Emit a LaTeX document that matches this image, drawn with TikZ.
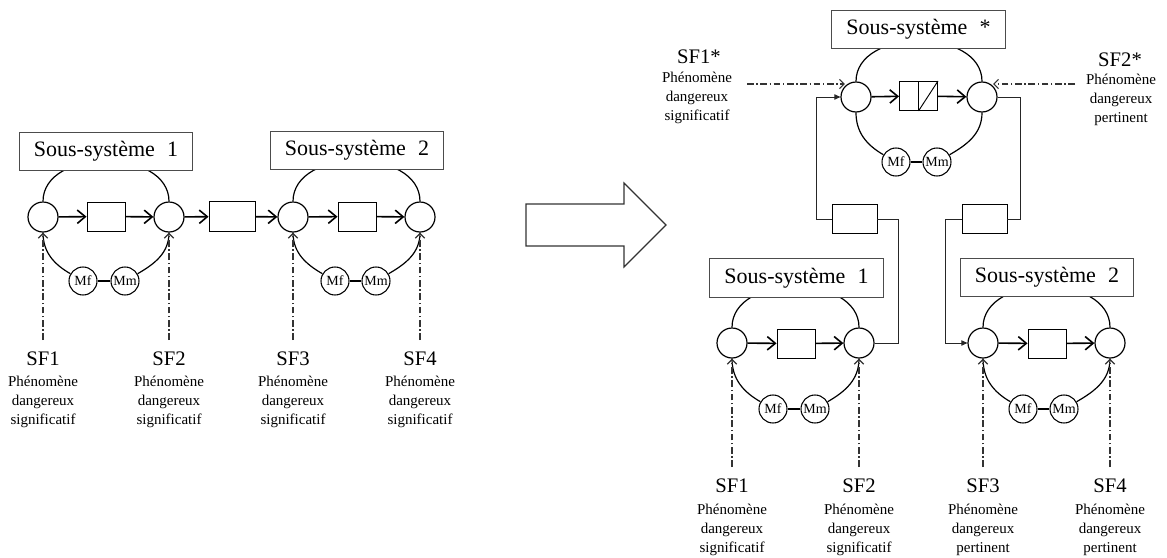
\documentclass[tikz,border=0pt]{standalone}
\usepackage{fontspec}
\setmainfont{Liberation Serif}
\usetikzlibrary{arrows.meta}

\begin{document}
\begin{tikzpicture}[
    x=0.75pt, y=0.75pt,
    port/.style={circle, draw=black, line width=0.9pt, fill=white, inner sep=0pt, minimum size=22.5pt},
    blk/.style={draw=black, line width=0.7pt, fill=white, inner sep=0pt, minimum width=28.5pt, minimum height=21.75pt},
    lnk/.style={blk, minimum width=34.5pt, minimum height=23pt},
    mem/.style={circle, draw=black, line width=0.8pt, fill=white, inner sep=0pt, minimum size=21pt, font=\fontsize{10.5}{10.5}\selectfont},
    sys/.style={draw=black!70, line width=0.7pt, fill=white, inner sep=0pt, minimum width=130pt, minimum height=29pt, font=\fontsize{16.5}{18}\selectfont},
    sf/.style={anchor=north, inner xsep=0pt, inner ysep=9pt, font=\fontsize{15.5}{17}\selectfont},
    desc/.style={align=center, inner sep=0pt, font=\fontsize{11.25}{14.25}\selectfont},
    ring/.style={line width=0.9pt},
    flow/.style={-{Straight Barb[length=6pt,width=10pt]}, line width=1.2pt},
    sense/.style={-{Straight Barb[length=3.5pt,width=7pt]}, line width=0.9pt, black!80, dash pattern=on 5pt off 2pt on 1pt off 2pt},
    wire/.style={line width=0.6pt, black!85}]

    \useasboundingbox (0,0) rectangle (1167,-557);

    % avant
    \node[port] (c1) at (43,-217) {};
    \node[port] (c2) at (169,-217) {};
    \node[port] (c3) at (293,-217) {};
    \node[port] (c4) at (420,-217) {};
    \node[blk] (b1) at (106,-216.5) {};
    \node[blk] (b2) at (357,-216.5) {};
    \node[lnk] (m) at (232,-216.5) {};
    \node[mem] (mf1) at (83,-281) {Mf};
    \node[mem] (mm1) at (125,-281) {Mm};
    \node[mem] (mf2) at (335,-281) {Mf};
    \node[mem] (mm2) at (376,-281) {Mm};

    \draw[ring] (c1) to[out=90,in=90,looseness=1.1] (c2);
    \draw[ring] (c1) to[out=-90,in=150] (mf1);
    \draw[ring] (mf1) -- (mm1);
    \draw[ring] (mm1) to[out=30,in=-90] (c2);
    \draw[ring] (c3) to[out=90,in=90,looseness=1.1] (c4);
    \draw[ring] (c3) to[out=-90,in=150] (mf2);
    \draw[ring] (mf2) -- (mm2);
    \draw[ring] (mm2) to[out=30,in=-90] (c4);

    \node[sys] (sys1) at (106,-151.5) {Sous-système\hspace{0.3em} 1};
    \node[sys] (sys2) at (357,-150.5) {Sous-système\hspace{0.3em} 2};

    \draw[flow] (c1)--(b1);
    \draw[flow] (b1)--(c2);
    \draw[flow] (c2)--(m);
    \draw[flow] (m)--(c3);
    \draw[flow] (c3)--(b2);
    \draw[flow] (b2)--(c4);

    \node[sf] (sf1) at (43,-340) {SF1};
    \node[sf] (sf2) at (169,-340) {SF2};
    \node[sf] (sf3) at (293,-340) {SF3};
    \node[sf] (sf4) at (420,-340) {SF4};
    \node[desc] (d1) at (43,-402) {Phénomène\\dangereux\\significatif};
    \node[desc] (d2) at (169,-402) {Phénomène\\dangereux\\significatif};
    \node[desc] (d3) at (293,-402) {Phénomène\\dangereux\\significatif};
    \node[desc] (d4) at (420,-402) {Phénomène\\dangereux\\significatif};
    \draw[sense] (sf1)--(c1);
    \draw[sense] (sf2)--(c2);
    \draw[sense] (sf3)--(c3);
    \draw[sense] (sf4)--(c4);

    \draw[line width=0.9pt, black!80] (526,-204) -- (624,-204) -- (624,-183) -- (666,-225)
        -- (624,-267) -- (624,-246) -- (526,-246) -- cycle;

    % apres
    \node[port] (tc1) at (856,-97) {};
    \node[port] (tc2) at (982,-97) {};
    \node[blk] (tb) at (918.5,-96) {};
    \draw[line width=0.7pt] (tb.north) -- (tb.south);
    \draw[line width=0.7pt] (tb.south) -- (tb.north east);
    \node[mem] (tmf) at (896,-162) {Mf};
    \node[mem] (tmm) at (937,-162) {Mm};

    \node[port] (lc1) at (732,-343) {};
    \node[port] (lc2) at (859,-343) {};
    \node[blk] (lb) at (796,-343.5) {};
    \node[mem] (lmf) at (773,-409) {Mf};
    \node[mem] (lmm) at (815,-409) {Mm};

    \node[port] (rc1) at (983,-343) {};
    \node[port] (rc2) at (1110,-343) {};
    \node[blk] (rb) at (1047,-343.5) {};
    \node[mem] (rmf) at (1023,-409) {Mf};
    \node[mem] (rmm) at (1064,-409) {Mm};

    \node[blk, minimum width=33.75pt] (linkL) at (854.5,-219) {};
    \node[blk, minimum width=33.75pt] (linkR) at (984.5,-219) {};

    \draw[ring] (tc1) to[out=90,in=90,looseness=1.1] (tc2);
    \draw[ring] (tc1) to[out=-90,in=150] (tmf);
    \draw[ring] (tmf) -- (tmm);
    \draw[ring] (tmm) to[out=30,in=-90] (tc2);
    \draw[ring] (lc1) to[out=90,in=90,looseness=1.1] (lc2);
    \draw[ring] (lc1) to[out=-90,in=150] (lmf);
    \draw[ring] (lmf) -- (lmm);
    \draw[ring] (lmm) to[out=30,in=-90] (lc2);
    \draw[ring] (rc1) to[out=90,in=90,looseness=1.1] (rc2);
    \draw[ring] (rc1) to[out=-90,in=150] (rmf);
    \draw[ring] (rmf) -- (rmm);
    \draw[ring] (rmm) to[out=30,in=-90] (rc2);

    \node[sys] (tsys) at (918.5,-29.5) {Sous-système\hspace{0.3em} *};
    \node[sys] (lsys) at (796.5,-278) {Sous-système\hspace{0.3em} 1};
    \node[sys] (rsys) at (1047,-277.5) {Sous-système\hspace{0.3em} 2};

    \draw[flow] (tc1)--(tb);
    \draw[flow] (tb)--(tc2);
    \draw[flow] (lc1)--(lb);
    \draw[flow] (lb)--(lc2);
    \draw[flow] (rc1)--(rb);
    \draw[flow] (rb)--(rc2);

    \draw[wire] (lc2) -- ++(39,0) |- (linkL);
    \draw[wire, -{Triangle[length=4.5pt,width=4pt]}] (linkL.west) -- ++(-15,0) |- (tc1);
    \draw[wire] (tc2) -- ++(38,0) |- (linkR);
    \draw[wire, -{Triangle[length=4.5pt,width=4pt]}] (linkR.west) -- ++(-16,0) |- (rc1);

    \node[sf] (sf1s) at (699,-38) {SF1*};
    \node[sf] (sf2s) at (1120,-41) {SF2*};
    \node[desc] (d1s) at (697,-98) {Phénomène\\dangereux\\significatif};
    \node[desc] (d2s) at (1121,-100) {Phénomène\\dangereux\\pertinent};
    \coordinate (h1) at (747,-84);
    \coordinate (h2) at (1075,-84);
    \draw[sense] (h1) -- (h1 -| tc1.135);
    \draw[sense] (h2) -- (h2 -| tc2.45);

    \node[sf] (lsf1) at (732,-467) {SF1};
    \node[sf] (lsf2) at (859,-467) {SF2};
    \node[sf] (rsf3) at (983,-467) {SF3};
    \node[sf] (rsf4) at (1110,-467) {SF4};
    \node[desc] (ld1) at (732,-530) {Phénomène\\dangereux\\significatif};
    \node[desc] (ld2) at (859,-530) {Phénomène\\dangereux\\significatif};
    \node[desc] (rd3) at (983,-530) {Phénomène\\dangereux\\pertinent};
    \node[desc] (rd4) at (1110,-530) {Phénomène\\dangereux\\pertinent};
    \draw[sense] (lsf1)--(lc1);
    \draw[sense] (lsf2)--(lc2);
    \draw[sense] (rsf3)--(rc1);
    \draw[sense] (rsf4)--(rc2);
  \end{tikzpicture}
\end{document}
